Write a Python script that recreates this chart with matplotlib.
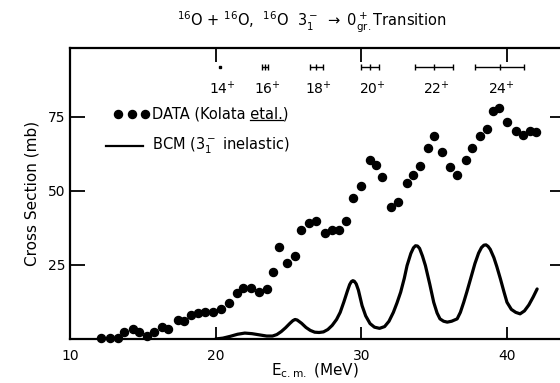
import matplotlib
matplotlib.use("Agg")
import matplotlib.pyplot as plt
from matplotlib.lines import Line2D

# ---- data ----
data_E = [12.1, 12.75, 13.3, 13.7, 14.3, 14.75, 15.3, 15.8, 16.3, 16.75,
          17.4, 17.85, 18.3, 18.8, 19.3, 19.85, 20.4, 20.9, 21.45, 21.9,
          22.45, 22.95, 23.5, 23.97, 24.37, 24.9, 25.45, 25.88, 26.38, 26.9,
          27.48, 28.0, 28.5, 28.97, 29.43, 29.98, 30.57, 31.03, 31.44, 32.04,
          32.5, 33.14, 33.53, 34.0, 34.56, 35.0, 35.57, 36.07, 36.58, 37.17,
          37.63, 38.13, 38.64, 39.03, 39.48, 40.0, 40.6, 41.1, 41.6, 42.0]
data_sigma = [0.3, 0.3, 0.3, 2.3, 3.5, 2.3, 1.1, 2.5, 3.9, 3.3,
              6.4, 6.2, 8.1, 8.9, 9.0, 9.0, 10.1, 12.0, 15.5, 17.3,
              17.1, 15.8, 16.9, 22.6, 31.0, 25.7, 27.9, 36.9, 39.1, 39.9,
              35.8, 36.9, 36.9, 39.8, 47.6, 51.6, 60.6, 58.9, 54.8, 44.5,
              46.4, 52.7, 55.5, 58.4, 64.5, 68.5, 63.2, 58.2, 55.5, 60.5,
              64.5, 68.5, 71.0, 76.9, 78.2, 73.4, 70.3, 69.0, 70.4, 70.0]

bcm_E = [20.0, 20.5, 21.0, 21.5, 22.0, 22.5, 23.0, 23.5, 23.9, 24.2,
         24.5, 24.8, 25.1, 25.3, 25.45, 25.6, 25.9, 26.2, 26.5, 26.8,
         27.1, 27.4, 27.7, 28.0, 28.3, 28.55, 28.8, 29.05, 29.2, 29.32,
         29.42, 29.52, 29.65, 29.8, 30.05, 30.3, 30.6, 30.9, 31.25, 31.6,
         31.9, 32.2, 32.45, 32.7, 32.95, 33.14, 33.4, 33.58, 33.72, 33.86,
         34.0, 34.2, 34.4, 34.7, 34.97, 35.2, 35.4, 35.65, 35.9, 36.2,
         36.58, 36.8, 37.03, 37.25, 37.5, 37.8, 38.05, 38.25, 38.42, 38.56,
         38.7, 38.85, 39.1, 39.3, 39.55, 39.8, 40.0, 40.3, 40.6, 40.9,
         41.2, 41.5, 41.8, 42.07]
bcm_sigma = [0.0, 0.3, 0.9, 1.6, 2.0, 1.8, 1.4, 1.0, 1.0, 1.5,
             2.5, 3.8, 5.3, 6.2, 6.6, 6.4, 5.3, 3.9, 2.9, 2.3,
             2.2, 2.4, 3.2, 4.6, 6.6, 9.0, 12.5, 16.3, 18.4, 19.4,
             19.7, 19.5, 18.6, 16.5, 11.3, 7.8, 5.2, 4.0, 3.6, 4.2,
             6.0, 9.0, 12.2, 15.8, 20.5, 24.8, 28.9, 30.8, 31.5, 31.4,
             30.6, 28.0, 24.8, 18.5, 12.4, 8.8, 6.8, 6.0, 5.7, 6.0,
             6.8, 9.0, 12.4, 16.0, 20.3, 25.5, 29.0, 30.9, 31.7, 31.8,
             31.3, 30.3, 27.5, 24.5, 20.3, 15.8, 12.4, 10.0, 9.0, 8.5,
             9.5, 11.5, 14.2, 16.9]

spin_labels = ["14", "16", "18", "20", "22", "24"]
spin_E = [20.3, 23.4, 26.9, 30.6, 35.0, 39.5]
spin_err = [0.0, 0.2, 0.45, 0.6, 1.3, 1.7]

x_ticks = [10, 20, 30, 40]
y_ticks = [25, 50, 75]
y_tick_labels = ["25", "50", "75"]

# ---- figure ----
W, H = 560, 383
fig = plt.figure(figsize=(W / 100, H / 100), dpi=100)
ax = fig.add_axes([70 / W, 44 / H, 490 / W, 291 / H])
ax.set_xlim(10, 43.64)
ax.set_ylim(0, 98.3)

ax.plot(data_E, data_sigma, 'o', color='black', markersize=5.8, clip_on=False)
ax.plot(bcm_E, bcm_sigma, '-', color='black', linewidth=2.3,
        solid_joinstyle='round', solid_capstyle='round')

for s in ['left', 'bottom', 'top']:
    ax.spines[s].set_linewidth(1.6)
ax.spines['right'].set_visible(False)

ax.set_xticks(x_ticks)
ax.set_xticklabels([str(v) for v in x_ticks])
ax.set_yticks(y_ticks)
ax.set_yticklabels(y_tick_labels)
ax.tick_params(axis='x', direction='in', length=8.5, width=1.3, labelsize=10, pad=7)
ax.tick_params(axis='y', direction='in', length=10.5, width=1.3, labelsize=10, pad=3)

top = ax.secondary_xaxis('top')
top.set_xticks([20, 30, 40])
top.tick_params(direction='in', length=10, width=1.3, labeltop=False)
top.spines['top'].set_visible(False)

right = ax.secondary_yaxis('right')
right.set_yticks(y_ticks)
right.tick_params(direction='in', length=7.5, width=1.3, labelright=False)
right.spines['right'].set_visible(False)

ax.set_xlabel(r"E$_{\rm c.m.}$ (MeV)", fontsize=11, labelpad=-1)
ax.set_ylabel("Cross Section (mb)", fontsize=11, labelpad=6)

# spin annotations (horizontal bars near top)
ybar = 92.0
for lab, e, er in zip(spin_labels, spin_E, spin_err):
    if er > 0:
        ax.errorbar([e], [ybar], xerr=[er], fmt='|', color='black',
                    markersize=4, elinewidth=1.0, capsize=2.5, capthick=1.0)
    else:
        ax.plot([e], [ybar], 's', color='black', markersize=1.8)
    ax.text(e + 0.15, 84.5, lab + r"$^{+}$", ha='center', va='center', fontsize=10)

# legend drawn manually (axes coordinates)
for xp in [118, 132, 145]:
    ax.plot([(xp - 70) / 490], [(339 - 114) / 291], 'o', color='black',
            markersize=5.8, transform=ax.transAxes, clip_on=False)
ax.add_line(Line2D([(106 - 70) / 490, (143 - 70) / 490],
                   [(339 - 146) / 291] * 2, color='black', linewidth=1.6,
                   transform=ax.transAxes))
tx = (152 - 70) / 490
t1 = ax.text(tx, (339 - 114) / 291, "DATA (Kolata etal.)", transform=ax.transAxes,
             ha='left', va='center', fontsize=10.5)
ax.text(tx, (339 - 146) / 291, r"BCM (3$_1^-$ inelastic)", transform=ax.transAxes,
        ha='left', va='center', fontsize=10.5)

# underline "etal."
fig.canvas.draw()
r = fig.canvas.get_renderer()
def _w(s):
    t = ax.text(tx, (339 - 114) / 291, s, transform=ax.transAxes,
                ha='left', va='center', fontsize=10.5)
    b = t.get_window_extent(r)
    t.remove()
    return b
b_pre = _w("DATA (Kolata e")
w_e = _w("e").width
w_word = _w("etal.").width
bb = t1.get_window_extent(r)
x0 = (b_pre.x1 - w_e) / W
x1 = (b_pre.x1 - w_e + w_word) / W
yline = (bb.y0 + 1.5) / H
fig.add_artist(Line2D([x0, x1], [yline, yline], color='black', linewidth=0.9))

fig.text(312 / W, 1 - 22 / H,
         r"$^{16}$O + $^{16}$O,  $^{16}$O  3$_1^-$ $\rightarrow$ 0$^+_{\rm gr.}$Transition",
         ha='center', va='center', fontsize=10.5)

fig.savefig("out.png", dpi=100)
